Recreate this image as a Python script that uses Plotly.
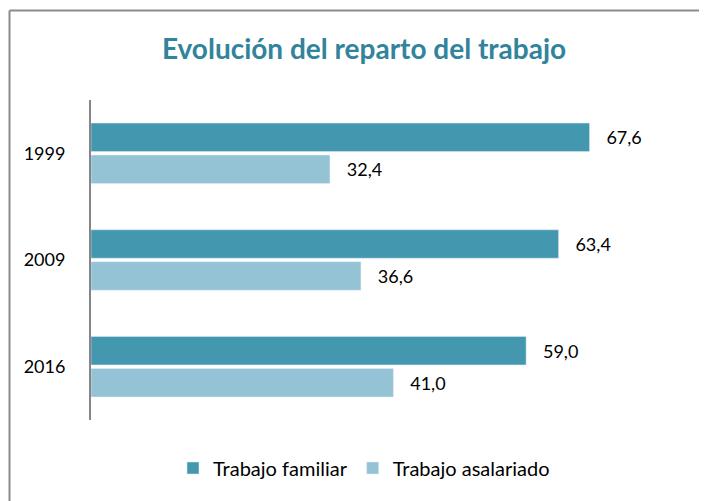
import plotly.graph_objects as go

years = ["1999", "2009", "2016"]
familiar = [67.6, 63.4, 59.0]
asalariado = [32.4, 36.6, 41.0]

# page body adds an 8px margin; compensate so the photo matches the reference
OFF = 8
W, H = 707 - OFF, 501 - OFF
PLOT_L, PLOT_R, PLOT_T, PLOT_B = 91, 681, 100, 420  # target pixels in photo
L, T = PLOT_L - OFF, PLOT_T - OFF
R = W - (PLOT_R - OFF)
B = H - (PLOT_B - OFF)
pw, ph = W - L - R, H - T - B

def px_x(p):
    return (p - OFF - L) / pw

def px_y(p):
    return (H - B - (p - OFF)) / ph

FONT = "Lato"

fig = go.Figure()
fig.add_trace(go.Bar(
    y=years, x=familiar, orientation="h", name="Trabajo familiar",
    marker=dict(color="#4398AF"),
    text=familiar, texttemplate="   %{x:.1f}", textposition="outside",
    textfont=dict(size=18, color="#000000", family=FONT), cliponaxis=False,
))
fig.add_trace(go.Bar(
    y=years, x=asalariado, orientation="h", name="Trabajo asalariado",
    marker=dict(color="#93C3D5"),
    text=asalariado, texttemplate="   %{x:.1f}", textposition="outside",
    textfont=dict(size=18, color="#000000", family=FONT), cliponaxis=False,
))

fig.update_layout(
    width=W, height=H,
    margin=dict(l=L, r=R, t=T, b=B, autoexpand=False),
    paper_bgcolor="white", plot_bgcolor="white",
    separators=",.",
    barmode="group", bargap=0.4, bargroupgap=0.11,
    font=dict(family=FONT, size=18, color="#000000"),
    title=dict(text="<b>Evolución del reparto del trabajo</b>",
               x=px_x(364), xref="paper", xanchor="center",
               y=1 - (49 - OFF) / H, yanchor="middle",
               font=dict(size=28, color="#31849B", family=FONT)),
    xaxis=dict(range=[0, 80], showgrid=False, zeroline=False,
               showticklabels=False, showline=False, fixedrange=True),
    yaxis=dict(autorange="reversed", showgrid=False, zeroline=False,
               showline=True, linecolor="#868686", linewidth=2,
               ticks="", ticklabelstandoff=20,
               tickfont=dict(size=18, color="#000000", family=FONT)),
    legend=dict(orientation="h", x=px_x(364), xanchor="center",
                y=px_y(468), yanchor="middle",
                font=dict(size=20, color="#000000", family=FONT),
                itemwidth=30, traceorder="normal"),
    showlegend=True,
)

# chart-area border (only the top and left edges fall inside the picture)
fig.add_shape(type="line", xref="paper", yref="paper",
              x0=px_x(9.5), x1=px_x(720), y0=px_y(10.5), y1=px_y(10.5),
              line=dict(color="#8C8C8C", width=2), layer="above")
fig.add_shape(type="line", xref="paper", yref="paper",
              x0=px_x(9.5), x1=px_x(9.5), y0=px_y(10.5), y1=px_y(520),
              line=dict(color="#8C8C8C", width=2), layer="above")

fig.write_html("out.html")
